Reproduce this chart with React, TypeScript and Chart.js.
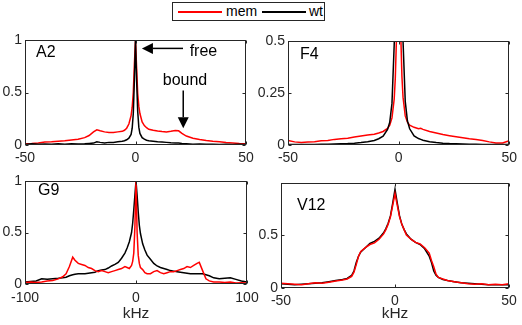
import React, { useEffect, useRef } from "react";
import { Chart, registerables } from "chart.js";
Chart.register(...registerables);

const FONT = "'Liberation Sans', Arial, Helvetica, sans-serif";
const AX = "#262626";
const W = 522;
const H = 325;

// ---------- A2 ----------
const A2_X = [-50,-47,-44,-41,-38,-35,-32,-29,-26,-23,-21,-19,-17.5,-16,-14,-12,-10,-8,-6,-5,-4,-3,-2,-1.5,-1,-0.5,0,0.5,1,1.5,2,3,4,5,6,8,10,12,14,16,18,19.5,21,23,26,29,32,35,38,41,44,47,50];
const A2_MEM = [0.012,0.015,0.02,0.028,0.03,0.035,0.04,0.047,0.055,0.07,0.09,0.125,0.145,0.135,0.125,0.12,0.12,0.125,0.13,0.14,0.16,0.2,0.28,0.36,0.5,0.77,1.0,0.74,0.49,0.37,0.3,0.22,0.185,0.165,0.15,0.14,0.133,0.128,0.125,0.13,0.138,0.135,0.11,0.085,0.065,0.052,0.042,0.035,0.03,0.024,0.02,0.015,0.012];
const A2_WT = [0.005,0.012,0.006,0.01,0.008,0.012,0.008,0.012,0.01,0.012,0.015,0.018,0.03,0.025,0.02,0.025,0.025,0.03,0.035,0.04,0.05,0.065,0.1,0.16,0.3,0.62,1.0,0.62,0.32,0.17,0.11,0.07,0.055,0.045,0.04,0.035,0.03,0.028,0.025,0.022,0.02,0.018,0.015,0.012,0.008,0.01,0.006,0.008,0.005,0.007,0.005,0.008,0.005];

// ---------- F4 ----------
const F4_X = [-50,-47,-44,-41,-38,-35,-32,-29,-26,-23,-20,-17,-14,-11,-9,-7,-5,-4,-3,-2,-1.5,-1,-0.5,0,0.5,1,1.5,2,3,4,5,7,9,10,11,14,17,20,23,26,29,32,35,38,41,44,47,50];
const F4_MEM = [0.022,0.015,0.012,0.014,0.016,0.02,0.022,0.027,0.03,0.033,0.038,0.043,0.048,0.052,0.058,0.065,0.08,0.095,0.13,0.22,0.32,0.5,0.8,1.0,0.8,0.52,0.33,0.23,0.14,0.11,0.095,0.085,0.078,0.08,0.075,0.065,0.058,0.05,0.045,0.04,0.035,0.03,0.026,0.022,0.015,0.01,0.01,0.02];
const F4_WT = [0.002,0.002,0.003,0.003,0.003,0.004,0.004,0.005,0.006,0.007,0.009,0.012,0.016,0.022,0.03,0.042,0.075,0.11,0.2,0.48,0.65,0.82,0.96,1.0,0.96,0.82,0.66,0.5,0.21,0.115,0.078,0.044,0.031,0.027,0.023,0.016,0.012,0.009,0.007,0.006,0.005,0.004,0.004,0.003,0.003,0.003,0.002,0.002];

// ---------- G9 ----------
const G9_X = [-100,-95,-90,-85,-80,-75,-70,-66,-63,-60,-57,-55,-52,-49,-46,-43,-40,-37,-34,-31,-28,-25,-22,-19,-16,-13,-10,-8,-6,-4,-3,-2,-1,0,1,2,3,4,6,8,10,13,16,19,22,25,28,31,34,37,40,43,46,49,52,55,57,60,63,66,70,75,80,85,90,95,100];
const G9_MEM = [0.015,0.02,0.015,0.02,0.03,0.035,0.05,0.07,0.1,0.17,0.26,0.23,0.2,0.19,0.18,0.16,0.15,0.13,0.12,0.13,0.12,0.11,0.12,0.13,0.14,0.15,0.17,0.16,0.15,0.18,0.22,0.3,0.55,1.0,0.5,0.28,0.2,0.16,0.14,0.11,0.1,0.1,0.12,0.13,0.11,0.1,0.11,0.12,0.12,0.13,0.14,0.15,0.17,0.16,0.18,0.2,0.21,0.13,0.05,0.03,0.02,0.02,0.015,0.02,0.01,0.012,0.01];
const G9_WT = [0.02,0.025,0.03,0.05,0.045,0.05,0.055,0.06,0.065,0.08,0.09,0.095,0.1,0.1,0.1,0.105,0.11,0.115,0.13,0.135,0.14,0.155,0.175,0.19,0.21,0.25,0.3,0.35,0.41,0.5,0.59,0.72,0.86,1.0,0.86,0.7,0.57,0.49,0.39,0.33,0.28,0.24,0.2,0.175,0.16,0.15,0.14,0.13,0.125,0.12,0.115,0.11,0.105,0.1,0.1,0.1,0.1,0.1,0.09,0.08,0.06,0.05,0.055,0.06,0.045,0.03,0.02];

// ---------- V12 ----------
const V12_X = [-50,-47,-44,-41,-38,-35,-32,-29,-26,-23,-21,-19,-18,-17,-16,-15,-13,-11,-9,-7,-5,-4,-3,-2,-1,0,1,2,3,4,5,7,9,11,13,15,16,17,18,19,21,23,26,29,32,35,38,41,44,47,50];
const V12_MEM = [0.045,0.04,0.035,0.03,0.04,0.05,0.045,0.055,0.065,0.075,0.085,0.11,0.15,0.22,0.3,0.345,0.38,0.41,0.425,0.46,0.51,0.55,0.6,0.67,0.78,0.89,0.78,0.67,0.6,0.55,0.5,0.46,0.43,0.415,0.38,0.33,0.26,0.2,0.13,0.1,0.085,0.07,0.06,0.05,0.04,0.035,0.04,0.03,0.035,0.03,0.04];
const V12_WT = [0.04,0.035,0.03,0.035,0.04,0.045,0.05,0.06,0.07,0.08,0.09,0.12,0.16,0.24,0.3,0.34,0.38,0.42,0.44,0.47,0.52,0.56,0.61,0.68,0.8,0.93,0.8,0.68,0.6,0.55,0.51,0.46,0.43,0.41,0.37,0.3,0.24,0.16,0.12,0.1,0.08,0.07,0.06,0.05,0.045,0.04,0.035,0.03,0.03,0.03,0.03];

// tick values
const X_TICKS_50 = [-50, 0, 50];
const X_TICKS_100 = [-100, 0, 100];
const Y_TICKS_1 = [0, 0.5, 1];
const Y_TICKS_HALF = [0, 0.25, 0.5];
const Y_TICKS_V12 = [0, 0.5];

const SERIES_NAMES = ["mem", "wt"];

type Box = { l: number; t: number; r: number; b: number };
type Panel = {
  name: string;
  xs: number[];
  mem: number[];
  wt: number[];
  xMin: number; xMax: number; xTicks: number[];
  yMax: number; yTicks: number[];
  box: Box;
  labelDx: number; labelDy: number;
  memOnTop: boolean;
  xTitle: boolean;
  xPad: number;
};

const PANELS: Panel[] = [
  { name: "A2", xs: A2_X, mem: A2_MEM, wt: A2_WT, xMin: -50, xMax: 50, xTicks: X_TICKS_50, yMax: 1, yTicks: Y_TICKS_1,
    box: { l: 25, t: 40, r: 246, b: 145 }, labelDx: 11, labelDy: 13, memOnTop: false, xTitle: false, xPad: 5 },
  { name: "F4", xs: F4_X, mem: F4_MEM, wt: F4_WT, xMin: -50, xMax: 50, xTicks: X_TICKS_50, yMax: 0.5, yTicks: Y_TICKS_HALF,
    box: { l: 288, t: 41, r: 512, b: 145 }, labelDx: 12, labelDy: 14, memOnTop: false, xTitle: false, xPad: 5 },
  { name: "G9", xs: G9_X, mem: G9_MEM, wt: G9_WT, xMin: -100, xMax: 100, xTicks: X_TICKS_100, yMax: 1, yTicks: Y_TICKS_1,
    box: { l: 25, t: 181, r: 247, b: 284 }, labelDx: 13, labelDy: 10, memOnTop: true, xTitle: true, xPad: 6 },
  { name: "V12", xs: V12_X, mem: V12_MEM, wt: V12_WT, xMin: -50, xMax: 50, xTicks: X_TICKS_50, yMax: 0.99, yTicks: Y_TICKS_V12,
    box: { l: 281, t: 183, r: 509, b: 288 }, labelDx: 16, labelDy: 23, memOnTop: true, xTitle: true, xPad: 5 },
];

const TICK_FS = 14;
const LABEL_FS = 15.5;
const TEXT_FS = 16;
const TITLE_BOTTOM = 323;

function drawArrow(ctx: CanvasRenderingContext2D, x1: number, y1: number, x2: number, y2: number) {
  const ang = Math.atan2(y2 - y1, x2 - x1);
  const hl = 11, hw = 5.5;
  const bx = x2 - hl * Math.cos(ang), by = y2 - hl * Math.sin(ang);
  ctx.save();
  ctx.strokeStyle = "#000";
  ctx.fillStyle = "#000";
  ctx.lineWidth = 1.5;
  ctx.beginPath();
  ctx.moveTo(x1, y1);
  ctx.lineTo(bx, by);
  ctx.stroke();
  ctx.beginPath();
  ctx.moveTo(x2, y2);
  ctx.lineTo(bx + hw * Math.sin(ang), by - hw * Math.cos(ang));
  ctx.lineTo(bx - hw * Math.sin(ang), by + hw * Math.cos(ang));
  ctx.closePath();
  ctx.fill();
  ctx.restore();
}

function framePlugin(p: Panel) {
  return {
    id: "frame" + p.name,
    afterDraw(chart: any) {
      const { ctx, chartArea: a, scales } = chart;
      const xs = scales.x, ys = scales.y;
      ctx.save();
      ctx.strokeStyle = AX;
      ctx.lineWidth = 1;
      const L = Math.round(a.left) + 0.5, R = Math.round(a.right) - 0.5;
      const T = Math.round(a.top) + 0.5, B = Math.round(a.bottom) - 0.5;
      ctx.strokeRect(L, T, R - L, B - T);
      ctx.beginPath();
      const tl = 3;
      for (const v of p.xTicks) {
        const px = Math.round(xs.getPixelForValue(v)) + 0.5;
        ctx.moveTo(px, B); ctx.lineTo(px, B - tl);
        ctx.moveTo(px, T); ctx.lineTo(px, T + tl);
      }
      for (const v of p.yTicks) {
        const py = Math.round(ys.getPixelForValue(v)) + 0.5;
        ctx.moveTo(L, py); ctx.lineTo(L + tl, py);
        ctx.moveTo(R, py); ctx.lineTo(R - tl, py);
      }
      ctx.stroke();
      // panel label
      ctx.fillStyle = "#000";
      ctx.font = `${TEXT_FS}px ${FONT}`;
      ctx.textBaseline = "middle";
      ctx.textAlign = "left";
      ctx.fillText(p.name, a.left + p.labelDx, a.top + p.labelDy);
      if (p.name === "A2") {
        const fy = ys.getPixelForValue(0.92);
        drawArrow(ctx, xs.getPixelForValue(21.5), fy, xs.getPixelForValue(2.9), fy);
        ctx.fillText("free", xs.getPixelForValue(24.5), ys.getPixelForValue(0.89));
        const bx = xs.getPixelForValue(21.6);
        drawArrow(ctx, bx, ys.getPixelForValue(0.52), bx, ys.getPixelForValue(0.16));
        ctx.textAlign = "center";
        ctx.fillText("bound", xs.getPixelForValue(22.4), ys.getPixelForValue(0.61));
      }
      ctx.restore();
    },
  };
}

function buildConfig(p: Panel): any {
  const axisH = p.xTitle ? TITLE_BOTTOM - p.box.b : 24;
  const bottomPad = H - p.box.b - axisH;
  return {
    type: "line",
    data: {
      datasets: [
        {
          label: SERIES_NAMES[0],
          data: p.xs.map((x, i) => ({ x, y: p.mem[i] })),
          borderColor: "#ff0000",
          borderWidth: 1.5,
          pointRadius: 0,
          tension: 0,
          fill: false,
          order: p.memOnTop ? 0 : 1,
        },
        {
          label: SERIES_NAMES[1],
          data: p.xs.map((x, i) => ({ x, y: p.wt[i] })),
          borderColor: "#000000",
          borderWidth: 1.5,
          pointRadius: 0,
          tension: 0,
          fill: false,
          order: p.memOnTop ? 1 : 0,
        },
      ],
    },
    options: {
      responsive: false,
      animation: false,
      events: [],
      layout: { padding: { left: 0, top: p.box.t, right: W - p.box.r, bottom: bottomPad } },
      plugins: { legend: { display: false }, tooltip: { enabled: false }, title: { display: false } },
      scales: {
        x: {
          type: "linear",
          min: p.xMin,
          max: p.xMax,
          afterBuildTicks: (ax: any) => { ax.ticks = p.xTicks.map((v) => ({ value: v })); },
          afterFit: (s: any) => { s.height = axisH; },
          grid: { display: false, drawTicks: false },
          border: { display: false },
          ticks: {
            autoSkip: false, maxRotation: 0, padding: p.xPad, color: AX,
            font: { family: FONT, size: TICK_FS },
            callback: (v: any) => String(v),
          },
          title: {
            display: p.xTitle, text: "kHz", color: AX,
            font: { family: FONT, size: LABEL_FS }, padding: { top: 0, bottom: 0 },
          },
        },
        y: {
          type: "linear",
          min: 0,
          max: p.yMax,
          afterBuildTicks: (ax: any) => { ax.ticks = p.yTicks.map((v) => ({ value: v })); },
          afterFit: (s: any) => { s.width = p.box.l; },
          grid: { display: false, drawTicks: false },
          border: { display: false },
          ticks: {
            autoSkip: false, padding: 3, color: AX,
            font: { family: FONT, size: TICK_FS },
            callback: (v: any) => String(v),
          },
        },
      },
    },
    plugins: [framePlugin(p)],
  };
}

export default function App() {
  const r0 = useRef<HTMLCanvasElement>(null);
  const r1 = useRef<HTMLCanvasElement>(null);
  const r2 = useRef<HTMLCanvasElement>(null);
  const r3 = useRef<HTMLCanvasElement>(null);
  const refs = [r0, r1, r2, r3];

  useEffect(() => {
    const charts = PANELS.map((p, i) => new Chart(refs[i].current as HTMLCanvasElement, buildConfig(p)));
    return () => charts.forEach((c) => c.destroy());
  }, []);

  const legendText: React.CSSProperties = { fontFamily: FONT, fontSize: 14, color: "#000", lineHeight: "17px", whiteSpace: "nowrap" };
  return (
    <div style={{ position: "fixed", left: 0, top: 0, width: W, height: H, background: "#fff", overflow: "hidden" }}>
      {PANELS.map((p, i) => (
        <canvas key={p.name} ref={refs[i]} width={W} height={H} style={{ position: "absolute", left: 0, top: 0 }} />
      ))}
      <div style={{ position: "absolute", left: 172, top: 2, width: 153, height: 19, border: `1px solid ${AX}`, background: "#fff", boxSizing: "border-box" }}>
        <div style={{ position: "absolute", left: 5, top: 8, width: 44, height: 2, background: "#ff0000" }} />
        <div style={{ ...legendText, position: "absolute", left: 53, top: 0 }}>{SERIES_NAMES[0]}</div>
        <div style={{ position: "absolute", left: 89, top: 8, width: 44, height: 2, background: "#000000" }} />
        <div style={{ ...legendText, position: "absolute", left: 136, top: 0 }}>{SERIES_NAMES[1]}</div>
      </div>
    </div>
  );
}
